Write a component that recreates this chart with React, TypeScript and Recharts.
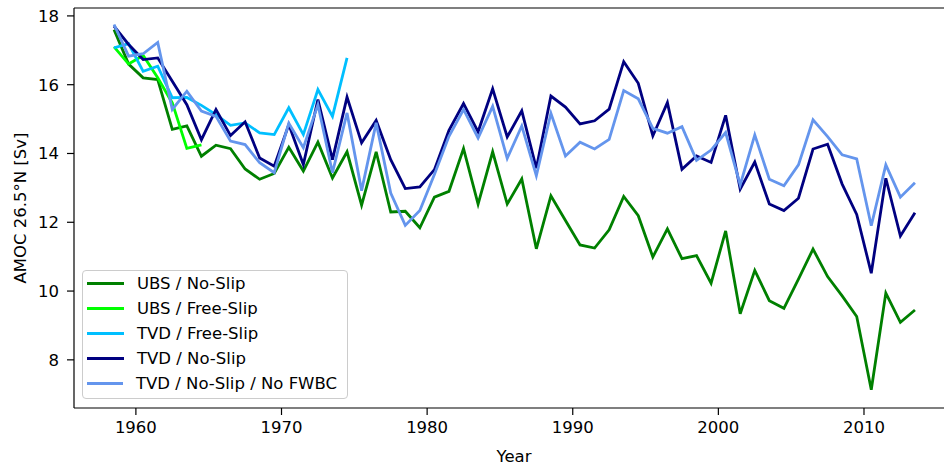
import {
    LineChart,
    Line,
    XAxis,
    YAxis,
    Legend,
    Label,
    ReferenceLine,
} from "recharts";

const years = [
    1958.5, 1959.5, 1960.5, 1961.5, 1962.5, 1963.5, 1964.5, 1965.5, 1966.5, 1967.5,
    1968.5, 1969.5, 1970.5, 1971.5, 1972.5, 1973.5, 1974.5, 1975.5, 1976.5, 1977.5,
    1978.5, 1979.5, 1980.5, 1981.5, 1982.5, 1983.5, 1984.5, 1985.5, 1986.5, 1987.5,
    1988.5, 1989.5, 1990.5, 1991.5, 1992.5, 1993.5, 1994.5, 1995.5, 1996.5, 1997.5,
    1998.5, 1999.5, 2000.5, 2001.5, 2002.5, 2003.5, 2004.5, 2005.5, 2006.5, 2007.5,
    2008.5, 2009.5, 2010.5, 2011.5, 2012.5, 2013.5,
];

const ubsNoSlip = [
    17.6, 16.6, 16.2, 16.15, 14.7, 14.8, 13.92, 14.24, 14.14, 13.55,
    13.25, 13.42, 14.18, 13.49, 14.33, 13.29, 14.05, 12.5, 14.05, 12.3,
    12.32, 11.84, 12.73, 12.9, 14.14, 12.53, 14.05, 12.53, 13.26, 11.23,
    12.77, 12.05, 11.34, 11.25, 11.78, 12.75, 12.19, 10.99, 11.81, 10.94,
    11.03, 10.23, 11.75, 9.34, 10.6, 9.72, 9.5, 10.35, 11.22, 10.42,
    9.86, 9.26, 7.13, 9.94, 9.09, 9.45,
];

const ubsFreeSlip = [17.1, 16.6, 16.85, 16.2, 15.47, 14.15, 14.25];

const tvdFreeSlip = [
    17.07, 17.19, 16.39, 16.54, 15.62, 15.63, 15.4, 15.13, 14.82, 14.89,
    14.6, 14.55, 15.33, 14.55, 15.86, 15.08, 16.78,
];

const tvdNoSlip = [
    17.7, 17.17, 16.73, 16.78, 16.1, 15.42, 14.4, 15.28, 14.52, 14.92,
    13.87, 13.63, 14.84, 13.68, 15.57, 13.82, 15.64, 14.31, 14.96, 13.82,
    12.98, 13.03, 13.53, 14.67, 15.45, 14.63, 15.88, 14.48, 15.24, 13.57,
    15.67, 15.35, 14.86, 14.95, 15.29, 16.67, 16.04, 14.51, 15.48, 13.54,
    13.93, 13.74, 15.11, 12.96, 13.75, 12.53, 12.34, 12.7, 14.13, 14.27,
    13.11, 12.23, 10.52, 13.28, 11.6, 12.28,
];

const tvdNoFwbc = [
    17.75, 16.83, 16.9, 17.23, 15.28, 15.81, 15.23, 15.08, 14.36, 14.26,
    13.73, 13.44, 14.88, 14.17, 15.42, 13.44, 15.18, 12.92, 14.89, 12.85,
    11.91, 12.34, 13.39, 14.5, 15.28, 14.45, 15.37, 13.86, 14.8, 13.35,
    15.17, 13.93, 14.33, 14.13, 14.41, 15.83, 15.59, 14.73, 14.59, 14.78,
    13.8, 14.1, 14.61, 13.09, 14.54, 13.25, 13.06, 13.67, 14.98, 14.49,
    13.96, 13.84, 11.9, 13.67, 12.73, 13.15,
];

const xTicks = [1960, 1970, 1980, 1990, 2000, 2010];
const yTicks = [8, 10, 12, 14, 16, 18];
const xDomain = [1955.75, 2016.25];
const yDomain = [6.6, 18.23];

const series = [
    { key: "ubsNoSlip", name: "UBS / No-Slip", color: "#008000" },
    { key: "ubsFreeSlip", name: "UBS / Free-Slip", color: "#00ff00" },
    { key: "tvdFreeSlip", name: "TVD / Free-Slip", color: "#00bfff" },
    { key: "tvdNoSlip", name: "TVD / No-Slip", color: "#000080" },
    { key: "tvdNoFwbc", name: "TVD / No-Slip / No FWBC", color: "#6495ed" },
];

const data = years.map((year, i) => ({
    year,
    ubsNoSlip: ubsNoSlip[i] ?? null,
    ubsFreeSlip: ubsFreeSlip[i] ?? null,
    tvdFreeSlip: tvdFreeSlip[i] ?? null,
    tvdNoSlip: tvdNoSlip[i] ?? null,
    tvdNoFwbc: tvdNoFwbc[i] ?? null,
}));

const FONT = "DejaVu Sans, sans-serif";
const FS = 16.5;

// matplotlib-style legend box, in plotting order
const LegendBox = () => (
    <div
        style={{
            border: "1px solid #cccccc",
            borderRadius: 4,
            background: "rgba(255,255,255,0.8)",
            padding: "0 10px 2px 4px",
            fontFamily: FONT,
            fontSize: FS,
            color: "#000",
            width: 250,
        }}
    >
        {series.map((s) => (
            <div
                key={s.key}
                style={{ display: "flex", alignItems: "center", height: 25, whiteSpace: "nowrap" }}
            >
                <span
                    style={{
                        display: "inline-block",
                        width: 37,
                        height: 3,
                        background: s.color,
                        marginRight: 13,
                    }}
                />
                {s.name}
            </div>
        ))}
    </div>
);

export default function App() {
    return (
        <div
            style={{
                position: "absolute",
                left: 0,
                top: 0,
                width: 944,
                height: 465,
                overflow: "hidden",
                background: "#fff",
            }}
        >
            <LineChart
                width={960}
                height={465}
                data={data}
                margin={{ top: 8, right: 5, bottom: 0, left: 0 }}
            >
                <XAxis
                    dataKey="year"
                    type="number"
                    domain={xDomain}
                    ticks={xTicks}
                    allowDataOverflow
                    height={57}
                    tickSize={7}
                    tickMargin={6}
                    axisLine={{ stroke: "#000", strokeWidth: 1.2 }}
                    tickLine={{ stroke: "#000", strokeWidth: 1.2 }}
                    tick={{ fill: "#000", fontSize: FS, fontFamily: FONT }}
                >
                    <Label
                        content={() => (
                            <text
                                x={514}
                                y={456}
                                textAnchor="middle"
                                dominantBaseline="central"
                                fontFamily={FONT}
                                fontSize={FS}
                                fill="#000"
                            >
                                Year
                            </text>
                        )}
                    />
                </XAxis>
                <YAxis
                    type="number"
                    domain={yDomain}
                    ticks={yTicks}
                    allowDataOverflow
                    width={74}
                    tickSize={7}
                    tickMargin={8}
                    axisLine={{ stroke: "#000", strokeWidth: 1.2 }}
                    tickLine={{ stroke: "#000", strokeWidth: 1.2 }}
                    tick={{ fill: "#000", fontSize: FS, fontFamily: FONT }}
                >
                    <Label
                        content={() => (
                            <text
                                x={20}
                                y={208}
                                transform="rotate(-90 20 208)"
                                textAnchor="middle"
                                dominantBaseline="central"
                                fontFamily={FONT}
                                fontSize={FS}
                                fill="#000"
                            >
                                AMOC 26.5°N [Sv]
                            </text>
                        )}
                    />
                </YAxis>
                {/* top and right spines */}
                <ReferenceLine y={yDomain[1]} stroke="#000" strokeWidth={1.2} />
                <ReferenceLine x={xDomain[1]} stroke="#000" strokeWidth={1.2} />
                <Legend
                    layout="vertical"
                    align="center"
                    verticalAlign="middle"
                    wrapperStyle={{ left: 82, top: 270, width: 266 }}
                    content={LegendBox}
                />
                {series.map((s) => (
                    <Line
                        key={s.key}
                        dataKey={s.key}
                        name={s.name}
                        stroke={s.color}
                        strokeWidth={2.8}
                        dot={false}
                        activeDot={false}
                        isAnimationActive={false}
                    />
                ))}
            </LineChart>
        </div>
    );
}
